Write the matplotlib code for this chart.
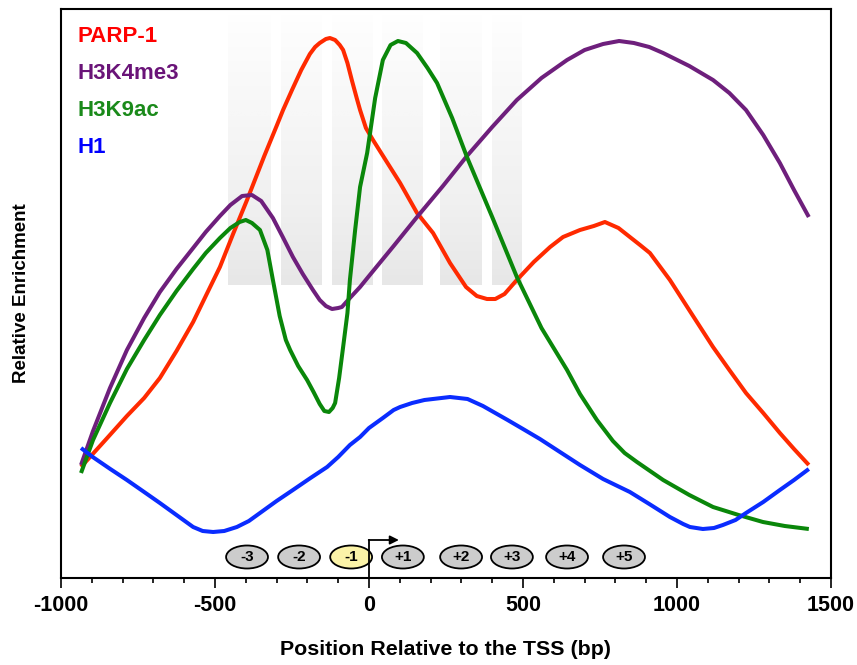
import numpy as np
import matplotlib
matplotlib.use("Agg")
import matplotlib.pyplot as plt
from matplotlib.patches import Ellipse

plt.rcParams["axes.unicode_minus"] = False

# positions (bp) and relative enrichment (arbitrary units)
parp_x = [-935, -897, -850, -786, -730, -679, -625, -571, -530, -484, -440, -396, -340, -300,
          -279, -250, -220, -192, -175, -160, -140, -127, -110, -95, -84, -70, -55, -40, -29,
          -10, 13, 60, 101, 156, 208, 263, 315, 350, 383, 410, 440, 480, 535, 588, 630, 685,
          730, 766, 810, 847, 880, 912, 977, 1050, 1117, 1170, 1224, 1280, 1334, 1380, 1428]
parp_y = [111, 124, 140, 162, 180, 200, 227, 256, 282, 311, 345, 378, 422, 452,
          468, 488, 508, 524, 531, 535, 539, 540, 538, 533, 528, 515, 497, 480, 468,
          450, 438, 415, 395, 365, 345, 315, 291, 282, 279, 279, 284, 298, 316, 331, 341, 348,
          352, 356, 350, 341, 333, 325, 298, 263, 231, 208, 185, 165, 145, 129, 113]

k4_x = [-935, -896, -841, -786, -730, -679, -625, -571, -530, -484, -450, -412, -380, -350,
        -312, -280, -247, -215, -182, -160, -140, -120, -100, -88, -62, -29, 0, 80, 156, 240,
        318, 400, 480, 560, 643, 700, 760, 812, 860, 910, 955, 1040, 1117, 1170, 1224, 1280,
        1334, 1380, 1428]
k4_y = [113, 147, 190, 228, 260, 286, 309, 330, 346, 362, 373, 382, 383, 377,
        360, 341, 321, 304, 288, 278, 272, 269, 270, 271, 280, 291, 302, 332, 361, 392,
        422, 451, 478, 500, 518, 528, 534, 537, 535, 531, 525, 512, 498, 485, 468, 443,
        415, 388, 361]

k9_x = [-935, -896, -841, -786, -730, -679, -625, -571, -530, -484, -450, -420, -400, -380,
        -354, -330, -312, -290, -270, -256, -230, -201, -180, -160, -145, -130, -118, -110, -97,
        -84, -70, -62, -45, -29, -6, 20, 45, 70, 94, 120, 156, 190, 221, 270, 318, 400,
        480, 560, 643, 685, 740, 792, 830, 870, 955, 1040, 1117, 1200, 1279, 1350, 1428]
k9_y = [105, 138, 175, 209, 238, 263, 287, 309, 325, 340, 350, 356, 358, 355,
        348, 328, 298, 262, 238, 228, 212, 198, 186, 174, 167, 166, 170, 175, 200,
        231, 265, 298, 348, 391, 425, 480, 518, 533, 537, 535, 525, 510, 495, 460, 421, 361,
        301, 250, 208, 184, 158, 137, 125, 116, 98, 83, 71, 63, 56, 52, 49]

h1_x = [-935, -897, -840, -786, -730, -679, -625, -571, -540, -506, -470, -429, -390, -354,
        -300, -247, -190, -136, -100, -62, -29, 0, 45, 80, 101, 140, 180, 263, 320, 370,
        410, 450, 500, 555, 620, 685, 760, 847, 910, 977, 1020, 1042, 1084, 1120, 1149,
        1190, 1224, 1280, 1334, 1380, 1428]
h1_y = [130, 121, 109, 98, 86, 75, 63, 51, 47, 46, 47, 51, 57, 65,
        77, 88, 100, 111, 121, 133, 141, 150, 160, 168, 171, 175, 178, 181, 179, 172,
        165, 158, 149, 139, 126, 113, 99, 86, 74, 61, 54, 51, 49, 50, 53,
        58, 65, 76, 88, 98, 109]

series = [("PARP-1", parp_x, parp_y, "#ff2a00", "#ff0000"),
          ("H3K4me3", k4_x, k4_y, "#6e1f7c", "#6a1478"),
          ("H3K9ac", k9_x, k9_y, "#0a870a", "#1a8a1a"),
          ("H1", h1_x, h1_y, "#0a2cff", "#0000ff")]

# nucleosome positions (bp) and labels
nuc_x = [-396, -227, -58, 110, 299, 464, 643, 828]
nuc_labels = ["-3", "-2", "-1", "+1", "+2", "+3", "+4", "+5"]

# shaded nucleosome bands (bp)
band_start = [-458, -286, -120, 42, 231, 399]
band_end = [-321, -153, 13, 175, 367, 494]

font = ["Liberation Sans", "DejaVu Sans"]

fig = plt.figure(figsize=(8.57, 6.65), dpi=100)
ax = fig.add_axes([61 / 857, 1 - 578 / 665, 770 / 857, 569 / 665])

grad = np.linspace(0, 1, 100).reshape(-1, 1)
for x0, x1 in zip(band_start, band_end):
    ax.imshow(grad, extent=[x0, x1, 293, 563], origin="upper", aspect="auto",
              cmap="Greys", vmin=-0.05, vmax=6.0, zorder=0, interpolation="bilinear")

for name, xs, ys, col, tcol in series:
    ax.plot(xs, ys, color=col, lw=2.9, solid_capstyle="butt", solid_joinstyle="round", zorder=3)

for i, (name, xs, ys, col, tcol) in enumerate(series):
    ax.text(0.022, 0.952 - i * 0.065, name, transform=ax.transAxes, color=tcol,
            fontsize=16, fontweight="bold", family=font, va="center", ha="left")

for x, lab in zip(nuc_x, nuc_labels):
    fc = "#fbf3a8" if lab == "-1" else "#cccccc"
    ax.add_patch(Ellipse((x, 21), width=136, height=23, facecolor=fc, edgecolor="black",
                         lw=1.3, zorder=4))
    ax.text(x, 21, lab, ha="center", va="center", fontsize=11, fontweight="bold",
            family=font, zorder=5)

# TSS arrow
ax.plot([0, 0], [0, 38], color="black", lw=1.3, zorder=6)
ax.annotate("", xy=(97, 38), xytext=(-1, 38),
            arrowprops=dict(arrowstyle="-|>", color="black", lw=1.3, mutation_scale=13,
                            shrinkA=0, shrinkB=0), zorder=6)

ax.set_xlim(-1000, 1500)
ax.set_ylim(0, 569)
ax.set_xticks([-1000, -500, 0, 500, 1000, 1500])
ax.set_xticks(np.arange(-1000, 1501, 100), minor=True)
ax.set_yticks([])
ax.tick_params(axis="x", which="major", length=7.5, width=1.2, direction="out", pad=5)
ax.tick_params(axis="x", which="minor", length=3.8, width=1.2, direction="out")
for s in ax.spines.values():
    s.set_linewidth(1.5)

for lab in ax.get_xticklabels():
    lab.set_fontsize(15.5)
    lab.set_fontweight("bold")
    lab.set_family(font)

ax.set_xlabel("Position Relative to the TSS (bp)", fontsize=15.4, fontweight="bold",
              family=font, labelpad=17)
ax.set_ylabel("Relative Enrichment", fontsize=13.5, fontweight="bold",
              family=font, labelpad=22)

fig.savefig("out.png", dpi=100)
